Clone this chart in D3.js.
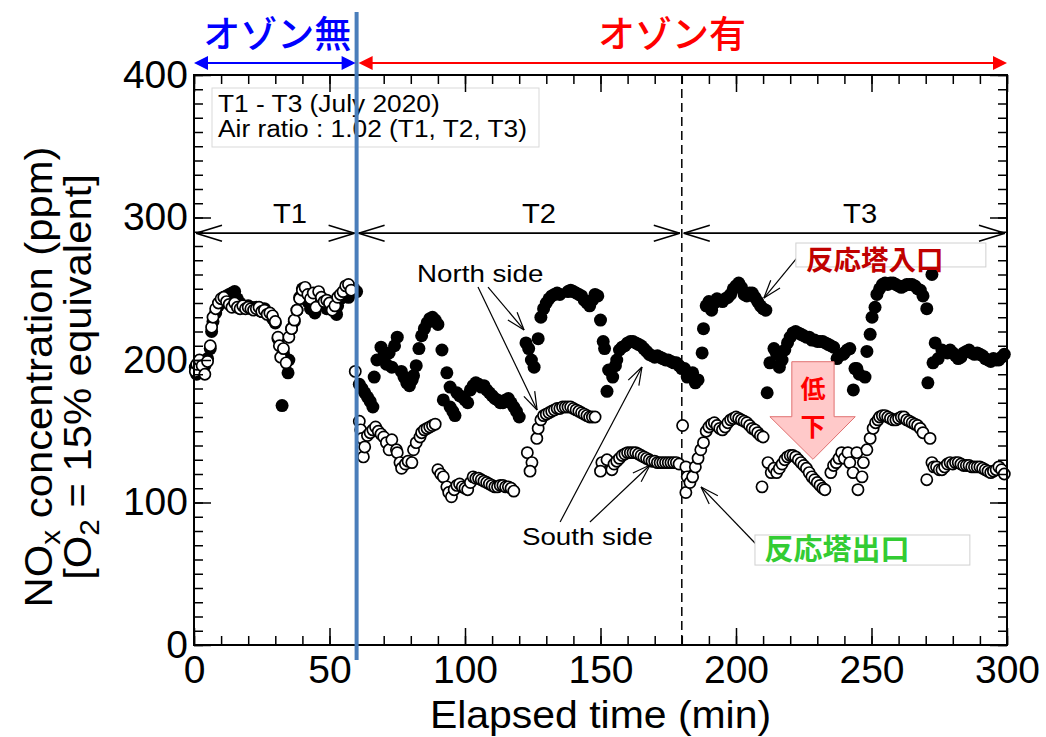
<!DOCTYPE html>
<html><head><meta charset="utf-8">
<script src="https://cdn.jsdelivr.net/npm/d3@7"></script>
<style>body{margin:0;background:#fff} svg{display:block}</style>
</head><body>
<svg id="c" width="1046" height="737"></svg>
<script>
// ---- data ----
const xTicks = [0, 50, 100, 150, 200, 250, 300];
const yTicks = [0, 100, 200, 300, 400];
const phaseLabels = ["T1", "T2", "T3"];
const phaseBounds = [0, 60, 180, 300];
const ozoneLabels = ["オゾン無", "オゾン有"];
const ozoneStart = 60;
const xTitle = "Elapsed time (min)";
const infoLines = ["T1 - T3 (July 2020)", "Air ratio : 1.02 (T1, T2, T3)"];

// reactor inlet (filled circles) [min, ppm]
const inlet = [
 [0.5,195],[1,190],[2,193],[3,198],[4,196],[5,201],[6,208],[6.5,220],[7,227],[8,233],[9,238],[10,241],[11,244],[12,245],[13,246],[14,247],[15,248],[16,243],[17,240],[18,238],[19,237],[20,238],[21,237],[22,236],[23,237],[24,235],[25,234],[26,236],[27,233],[28,232],[29,229],[30,226],[31,215],[32.5,168],[33,205],[34.7,191],[35,200],[36,222],[37,227],[38,235],[39,244],[40,250],[41,245],[42,241],[43,236],[44.6,233],[45,240],[46,246],[47,243],[48,240],[49,236],[50,239],[51,236],[52.6,232],[53,238],[54,243],[55,246],[56,249],[57,244],[58,247],[59,250],[60,248],
 [61,183],[62,180],[63,177],[64,174],[65,171],[66,167],[66.5,188],[67.5,200],[69,209],[70,203],[71,197],[72,205],[73,195],[74,210],[75,216],[76.5,192],[77.5,188],[78.5,184],[79.5,182],[80.5,186],[81,189],[82,196],[83,208],[84,217],[85,222],[86,226],[87,229],[88,230],[89,228],[90,225],[91.5,207],[92,172],[93.3,191],[94.5,181],[94.5,167],[95.5,164],[96.3,161],[97,177],[98,175],[99,174],[100,172],[101,170],[102,179],[103,182],[104,184],[105,183],[106,181],[107,182],[108,179],[109,177],[110,175],[111,173],[112,172],[113,170],[114,170],[115,172],[116,173],[117,170],[118,167],[119,164],[120,160],
 [122.5,212],[123.5,208],[124.5,200],[125.5,195],[127,215],[128,230],[129,236],[130,240],[131,243],[132,245],[133,246],[134,247],[135,246],[138,248],[139,249],[140,248],[141,247],[142,246],[143,245],[144,242],[145,240],[146,238],[147,242],[148,246],[149,245],[150,228],[151,213],[151.5,208],[152.4,178],[153,193],[154.5,188],[155.5,196],[156,200],[157,207],[158,209],[159,210],[160,212],[161,213],[162,213],[163,212],[164,211],[165,210],[166,208],[167,206],[168,204],[169,203],[170,202],[171,203],[172,202],[173,201],[174,200],[175,200],[176,199],[177,198],[178,198],[179,196],[180,194],
 [181,194],[182,188],[183,190],[184,191],[185,184],[186,186],[187.5,205],[188,222],[189,238],[190,241],[191,235],[192,240],[193,243],[194,242],[195,241],[196,243],[197,244],[198,246],[199,250],[200,252],[201,254],[202,251],[203,246],[204,245],[205,247],[206,247],[207,244],[208,241],[209,238],[210,236],[211,235],[211.5,177],[212.5,198],[214,208],[215,204],[216,195],[217,200],[218,207],[219,212],[220,216],[221,219],[222,220],[223,219],[224,218],[225,217],[226,216],[227,216],[228,214],[229,214],[230,213],[231,213],[232,213],[233,212],[234,211],[235,210],[236,209],[237.3,201],[238,203],[239.5,204],[240,205],[241,207],[242,208],[243.9,194],[243.3,179],[244.6,194],[245.5,190],[247.6,188],[248.3,206],[249.5,218],[250.2,230],[251.3,237],[252,246],[253,250],[254,253],[255,254],[256,253],[257,254],[258,254],[259,253],[260,252],[261,251],[262,252],[263,253],[264,253],[265,253],[266,252],[267,250],[268,249],[269,245],[270.4,236],[270.8,184],[272.3,260],[272.7,198],[273.5,212],[274.6,201],[276,207],[277,206],[278,205],[279,207],[280,205],[281,203],[282,201],[283,202],[284,205],[285,206],[286,207],[287,205],[288,204],[289,205],[290,204],[291,203],[292,201],[293,200],[294,199],[295,201],[296,200],[297,200],[298,202],[299,204]
];

// reactor outlet (open circles) [min, ppm]
const outlet = [
 [0.5,192],[1,197],[2,200],[3,196],[4,190],[5,199],[6,210],[6.5,223],[7,230],[8,236],[9,240],[10,243],[11,244],[12,241],[13,239],[14,237],[15,240],[16,237],[17,236],[18,238],[19,236],[20,237],[21,236],[22,235],[23,236],[24,237],[25,234],[26,235],[27,232],[28,233],[29,231],[30,227],[31,216],[31.5,210],[32,202],[33,208],[34,198],[35,216],[36,222],[37,228],[38,235],[39,243],[40,249],[41,251],[42,246],[43,243],[44,247],[45,237],[46,248],[47,244],[48,241],[49,242],[50,240],[51,235],[52,238],[53,244],[54,246],[55,248],[56,252],[57,253],[58,249],[59.5,192],
 [61,157],[61.5,151],[62,145],[62.5,132],[63,139],[64,147],[65,149],[66,151],[67,153],[68,150],[69,148],[70,146],[71,142],[72,137],[73,144],[74.7,137],[75,135],[76,128],[76.6,124],[78,127],[79,129],[80.4,128],[81,137],[82,142],[83.4,146],[84,149],[85,151],[86,152],[87,153],[88,154],[89,155],[90,123],[91,120],[92,118],[93.3,111],[94,107],[95,104],[96,109],[97,112],[98,113],[99,111],[100,110],[101,109],[102,114],[103,118],[104,117],[105,117],[106,116],[107,115],[108,114],[109,113],[110,112],[111,111],[112,111],[113,112],[114,112],[115,111],[116,111],[117,110],[118,108],
 [123,135],[124.7,128],[124,122],[126.5,145],[127,152],[128,158],[129,161],[130,162],[131,163],[132,164],[133,165],[134,166],[135,166],[136,167],[137,167],[138,167],[139,167],[140,166],[141,165],[142,164],[143,163],[144,162],[145,161],[146,160],[147,160],[148,160],[150.5,128],[150,122],[152.4,130],[154.2,123],[155,127],[156,129],[157,131],[158,133],[159,134],[160,135],[161,135],[162,135],[163,135],[164,134],[165,133],[166,132],[167,131],[168,130],[169,129],[170,129],[171,128],[172,128],[173,128],[174,128],[175,128],[176,128],[177,128],[178,128],[179,127],[180.3,154],
 [181.5,125],[182,118],[181.5,107],[183,114],[184,118],[185,125],[186,131],[187,137],[188,142],[189,150],[190,153],[191,155],[192,156],[193,154],[194,152],[195,151],[196,153],[197,156],[198,158],[199,159],[200,160],[201,159],[202,158],[203,157],[204,156],[205,154],[206,152],[207,151],[208,149],[209,147],[210,146],[209.6,111],[211.8,128],[213,121],[214,124],[215,121],[216,124],[217,127],[218,130],[219,132],[220,133],[221,133],[222,132],[223,130],[224,128],[225,126],[226,124],[227,121],[228,118],[229,116],[230,114],[231,112],[232,110],[232.8,109],[235,121],[236,126],[237,128],[238,131],[239,135],[240,131],[241.3,135],[242,128],[243.2,121],[244.6,135],[245,109],[246.5,118],[247,128],[248.3,137],[249.5,145],[250.6,152],[251.5,156],[252.4,158],[253,160],[254,161],[255,161],[256,160],[257,159],[258,158],[259,158],[260,159],[261,160],[262,160],[263,158],[264,157],[265,156],[266,155],[267,154],[268,152],[269,149],[270.4,116],[271.6,145],[272.3,128],[273,125],[274,125],[275,123],[276,123],[277,125],[278,127],[279,128],[280,127],[281,128],[282,128],[283,127],[284,126],[285,126],[286,126],[287,125],[288,125],[289,125],[290,125],[291,124],[292,123],[293,122],[294,121],[295,122],[296,123],[297,125],[298,123],[299,120]
];

// ---- layout ----
const W = 1046, H = 737;
const svg = d3.select("#c");
const x = d3.scaleLinear().domain([0, 300]).range([194, 1007]);
const y = d3.scaleLinear().domain([0, 400]).range([645, 75]);
const FONT = "'Liberation Sans', Arial, sans-serif";
const CJK = "'Noto Sans CJK JP', sans-serif";

svg.append("rect").attr("width", W).attr("height", H).attr("fill", "#fff");

// stretched text helper (text slightly wider than Liberation Sans)
function sText(g, tx, ty, str, size, sx, anchor) {
  return g.append("text").attr("transform", `translate(${tx},${ty}) scale(${sx},1)`)
    .attr("text-anchor", anchor || "start").attr("font-family", FONT).attr("font-size", size)
    .attr("fill", "#000").text(str);
}

// info box
const gInfo = svg.append("g");
gInfo.append("rect").attr("x", 212).attr("y", 88).attr("width", 327).attr("height", 59)
  .attr("fill", "#fff").attr("stroke", "#d9d9d9").attr("stroke-width", 1);
infoLines.forEach((t, i) => sText(gInfo, 218, 112 + i * 25, t, 23.5, 1.12));

// dashed line at 180
svg.append("line").attr("x1", x(180)).attr("x2", x(180)).attr("y1", y(400)).attr("y2", y(0))
  .attr("stroke", "#000").attr("stroke-width", 1.5).attr("stroke-dasharray", "9,5");

// open V arrow helper
function vArrow(g, x1, y1, x2, y2, len, half, sw) {
  g.append("line").attr("x1", x1).attr("y1", y1).attr("x2", x2).attr("y2", y2)
    .attr("stroke", "#000").attr("stroke-width", sw);
  const a = Math.atan2(y2 - y1, x2 - x1);
  [-1, 1].forEach(s => {
    const bx = x2 - len * Math.cos(a) + s * half * Math.sin(a);
    const by = y2 - len * Math.sin(a) - s * half * Math.cos(a);
    g.append("line").attr("x1", x2).attr("y1", y2).attr("x2", bx).attr("y2", by)
      .attr("stroke", "#000").attr("stroke-width", sw);
  });
}

// phase arrows
const gPh = svg.append("g");
const phaseY = 289;
phaseLabels.forEach((lab, i) => {
  const a = phaseBounds[i], b = phaseBounds[i + 1];
  vArrow(gPh, x(a) + 2, y(phaseY), x(b) - 2, y(phaseY), 26, 8, 1.5);
  vArrow(gPh, x(b) - 2, y(phaseY), x(a) + 2, y(phaseY), 26, 8, 1.5);
});
const phaseLabelX = [35.4, 127.3, 245.8];
phaseLabels.forEach((lab, i) => sText(gPh, x(phaseLabelX[i]), y(296), lab, 27, 1.08, "middle"));

// data points
svg.append("g").selectAll("circle").data(inlet).join("circle")
  .attr("cx", d => x(d[0])).attr("cy", d => y(d[1])).attr("r", 6.5).attr("fill", "#000");
svg.append("g").selectAll("circle").data(outlet).join("circle")
  .attr("cx", d => x(d[0])).attr("cy", d => y(d[1])).attr("r", 5.6)
  .attr("fill", "#fff").attr("stroke", "#000").attr("stroke-width", 1.7);

// annotations
const gAn = svg.append("g");
sText(gAn, x(82.3), y(254.7), "North side", 23.5, 1.18);
sText(gAn, x(121), y(70.2), "South side", 23.5, 1.18);
vArrow(gAn, x(104.8), y(251.2), x(126.6), y(164.9), 18, 6, 1.2);
vArrow(gAn, x(108.5), y(251.2), x(121.8), y(221.1), 18, 6, 1.2);
vArrow(gAn, x(135.1), y(86.3), x(165.3), y(195.1), 18, 6, 1.2);
vArrow(gAn, x(146.1), y(86.3), x(168.3), y(126.3), 18, 6, 1.2);
vArrow(gAn, x(222.5), y(271.6), x(210.3), y(243.5), 18, 6, 1.2);
vArrow(gAn, x(207.7), y(70.2), x(187.1), y(110.9), 18, 6, 1.2);

// legend labels
gAn.append("rect").attr("x", x(222.1)).attr("y", y(282.1)).attr("width", x(292.2) - x(222.1)).attr("height", y(265.3) - y(282.1))
  .attr("fill", "#fff").attr("stroke", "#d0d0d0");
gAn.append("text").attr("x", x(225.8)).attr("y", y(263.5)).attr("font-family", CJK).attr("font-weight", "bold")
  .attr("font-size", 27.5).attr("fill", "#c00000").text("反応塔入口");
gAn.append("rect").attr("x", x(207)).attr("y", y(77.2)).attr("width", x(286.3) - x(207)).attr("height", y(56.1) - y(77.2))
  .attr("fill", "#fff").attr("stroke", "#d0d0d0");
gAn.append("text").attr("x", x(210.5)).attr("y", y(60)).attr("font-family", CJK).attr("font-weight", "bold")
  .attr("font-size", 29).attr("fill", "#33cc33").text("反応塔出口");

// pink down arrow
const arrowPts = [[220.6,198.8],[236.2,198.8],[236.2,160.2],[244,160.2],[228.4,130.3],[212.5,160.2],[220.6,160.2]];
gAn.append("polygon").attr("points", arrowPts.map(p => [x(p[0]), y(p[1])].join(",")).join(" "))
  .attr("fill", "#ffc9c9").attr("stroke", "#e07070").attr("stroke-width", 1);
gAn.append("text").attr("x", x(228.4)).attr("y", y(173.5)).attr("text-anchor", "middle").attr("font-family", CJK)
  .attr("font-weight", "bold").attr("font-size", 25).attr("fill", "#ff0000").text("低");
gAn.append("text").attr("x", x(228.4)).attr("y", y(147)).attr("text-anchor", "middle").attr("font-family", CJK)
  .attr("font-weight", "bold").attr("font-size", 25).attr("fill", "#ff0000").text("下");

// axes (ticks inward)
const minorX = d3.range(0, 301, 10), minorY = d3.range(0, 401, 10);
function axisG(gen, tr) {
  const g = svg.append("g").attr("transform", tr).call(gen);
  g.select(".domain").remove();
  g.selectAll("line").attr("stroke", "#000").attr("stroke-width", 1.5);
  g.selectAll("text").attr("font-family", FONT).attr("font-size", 39).attr("fill", "#000");
  return g;
}
axisG(d3.axisBottom(x).tickValues(minorX).tickSize(-9).tickFormat(""), `translate(0,${y(0)})`);
axisG(d3.axisBottom(x).tickValues(xTicks).tickSize(-17).tickPadding(10).tickFormat(d3.format("d")), `translate(0,${y(0)})`);
axisG(d3.axisTop(x).tickValues(minorX).tickSize(-9).tickFormat(""), `translate(0,${y(400)})`);
axisG(d3.axisTop(x).tickValues(xTicks).tickSize(-17).tickFormat(""), `translate(0,${y(400)})`);
axisG(d3.axisLeft(y).tickValues(minorY).tickSize(-9).tickFormat(""), `translate(${x(0)},0)`);
axisG(d3.axisLeft(y).tickValues(yTicks).tickSize(-17).tickPadding(6).tickFormat(d3.format("d")), `translate(${x(0)},0)`);
axisG(d3.axisRight(y).tickValues(minorY).tickSize(-9).tickFormat(""), `translate(${x(300)},0)`);
axisG(d3.axisRight(y).tickValues(yTicks).tickSize(-17).tickFormat(""), `translate(${x(300)},0)`);

// frame
svg.append("rect").attr("x", x(0)).attr("y", y(400)).attr("width", x(300) - x(0)).attr("height", y(0) - y(400))
  .attr("fill", "none").attr("stroke", "#000").attr("stroke-width", 2);

// ozone vertical line
svg.append("line").attr("x1", x(ozoneStart)).attr("x2", x(ozoneStart)).attr("y1", 12).attr("y2", 660)
  .attr("stroke", "#4a7ebb").attr("stroke-width", 4);

// ozone arrows on top
function triArrow(x1, x2, yy, color) {
  const g = svg.append("g");
  g.append("line").attr("x1", x1 + 8).attr("x2", x2 - 8).attr("y1", yy).attr("y2", yy).attr("stroke", color).attr("stroke-width", 2.2);
  g.append("path").attr("d", `M${x1},${yy} l14,-7 l0,14 z`).attr("fill", color);
  g.append("path").attr("d", `M${x2},${yy} l-14,-7 l0,14 z`).attr("fill", color);
}
triArrow(x(0), x(ozoneStart) - 1, 63, "#0000ff");
triArrow(x(ozoneStart) + 2, x(300), 63, "#ff0000");
svg.append("text").attr("x", (x(0) + x(ozoneStart)) / 2 + 2).attr("y", 48).attr("text-anchor", "middle")
  .attr("font-family", CJK).attr("font-weight", 500).attr("font-size", 37).attr("fill", "#0000ff").text(ozoneLabels[0]);
svg.append("text").attr("x", 672).attr("y", 48).attr("text-anchor", "middle")
  .attr("font-family", CJK).attr("font-weight", 500).attr("font-size", 37).attr("fill", "#ff0000").text(ozoneLabels[1]);

// axis titles
sText(svg, (x(0) + x(300)) / 2, 728, xTitle, 39, 1.05, "middle");
const yt = svg.append("text").attr("transform", "translate(52,377) rotate(-90) scale(1.1,1)").attr("text-anchor", "middle")
  .attr("font-family", FONT).attr("font-size", 38);
yt.append("tspan").text("NO");
yt.append("tspan").attr("font-size", 27).attr("dy", 8).text("x");
yt.append("tspan").attr("dy", -8).text(" concentration (ppm)");
const yt2 = svg.append("text").attr("transform", "translate(91,377) rotate(-90) scale(1.1,1)").attr("text-anchor", "middle")
  .attr("font-family", FONT).attr("font-size", 38);
yt2.append("tspan").text("[O");
yt2.append("tspan").attr("font-size", 27).attr("dy", 8).text("2");
yt2.append("tspan").attr("dy", -8).text(" = 15% equivalent]");
</script>
</body></html>
